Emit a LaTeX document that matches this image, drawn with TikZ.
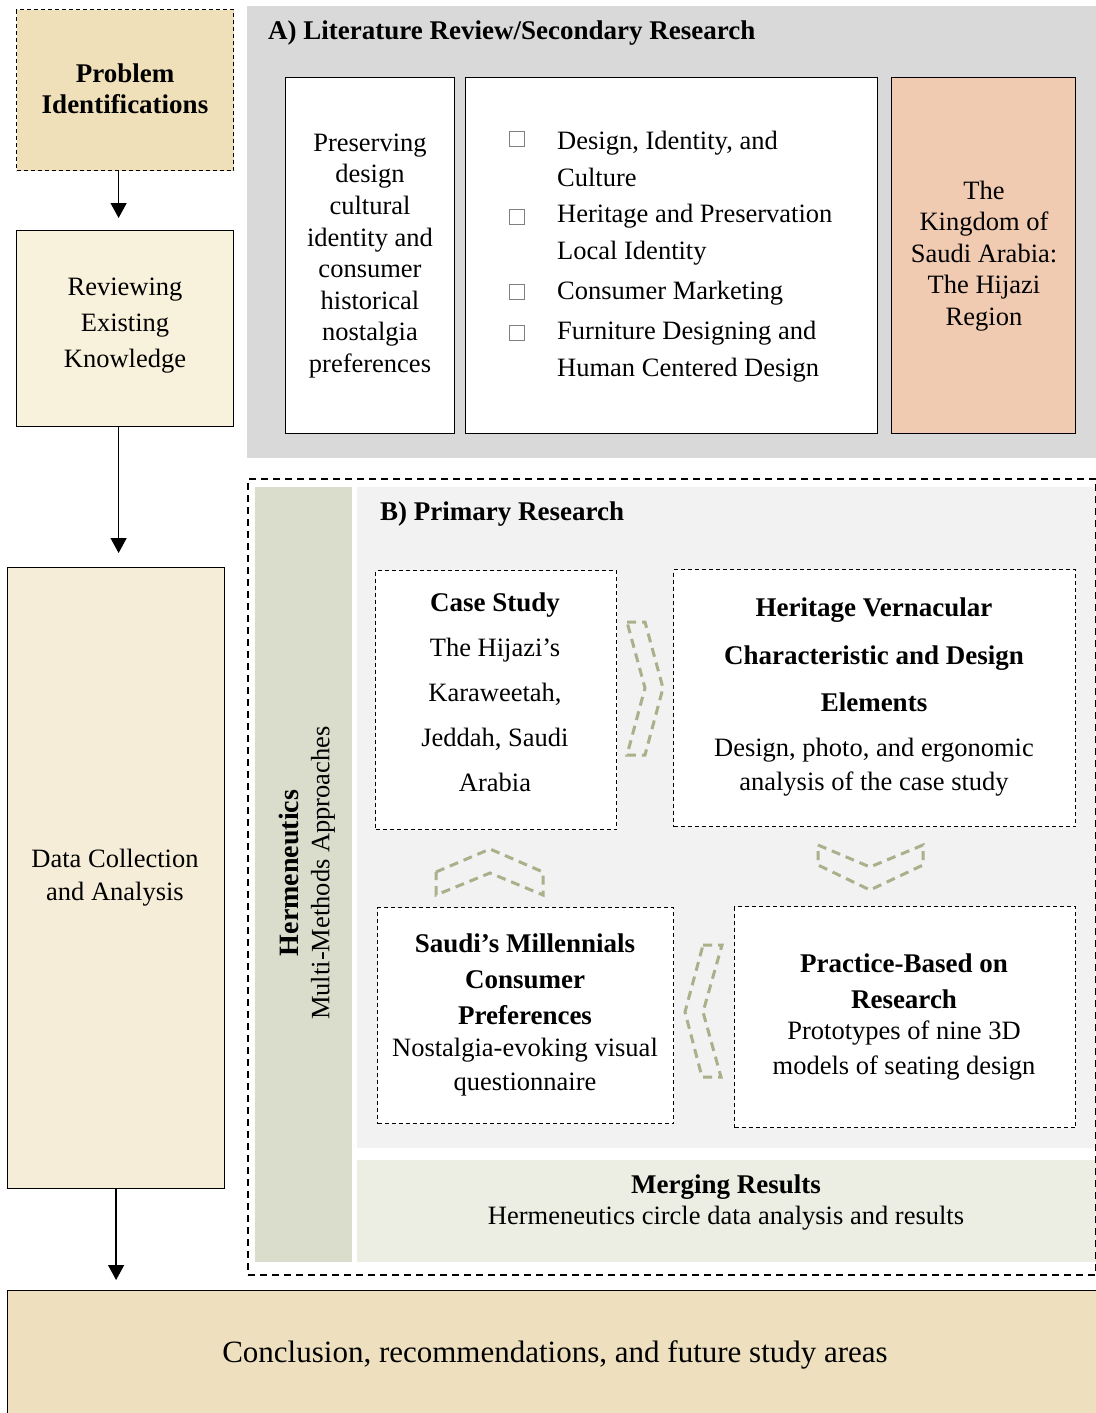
\documentclass[tikz,border=0pt]{standalone}
\usepackage{fontspec}
\setmainfont{Liberation Serif}
\usetikzlibrary{arrows.meta}
\definecolor{tanA}{RGB}{239,224,185}
\definecolor{creamA}{RGB}{248,241,219}
\definecolor{creamB}{RGB}{246,237,217}
\definecolor{conclC}{RGB}{238,224,190}
\definecolor{peachA}{RGB}{240,203,178}
\definecolor{greyA}{RGB}{217,217,217}
\definecolor{greyB}{RGB}{242,242,242}
\definecolor{hermC}{RGB}{218,220,204}
\definecolor{mergeC}{RGB}{236,237,227}
\definecolor{chevC}{RGB}{169,176,138}
\tikzset{
  fs/.style={font=\fontsize{26.5}{31.5}\selectfont},
  fb/.style={font=\fontsize{27}{31.5}\selectfont\bfseries},
  area/.style={anchor=north west, inner sep=0pt, draw=none},
  solidbox/.style={area, draw=black, line width=1.2pt},
  dashbox/.style={area, draw=black, line width=1.2pt, dash pattern=on 4pt off 3pt},
  arr/.style={-{Triangle[width=16pt,length=15pt]}, line width=1.3pt},
  chev/.style={draw=chevC, line width=3pt, dash pattern=on 9pt off 6pt},
  chk/.style={draw=gray, line width=1pt, minimum size=15pt, inner sep=0pt},
  txt/.style={fs, inner sep=0pt, align=center},
}
\begin{document}
\begin{tikzpicture}[x=1pt,y=-1pt]
\useasboundingbox (0,0) rectangle (1095,1413);
% left column
\node[dashbox, fill=tanA, minimum width=217pt, minimum height=161pt] (prob) at (16,9) {};
\node[txt, fb] (probt) at (125,89) {Problem\\Identifications};
\node[solidbox, fill=creamA, minimum width=217pt, minimum height=196pt] (rev) at (16,230) {};
\node[txt, font=\fontsize{26.5}{36}\selectfont] (revt) at (125,326) {Reviewing\\Existing\\Knowledge};
\node[solidbox, fill=creamB, minimum width=217pt, minimum height=621pt] (data) at (7,567) {};
\node[txt, font=\fontsize{26.5}{33}\selectfont] (datat) at (115,878) {Data Collection\\and Analysis};
\node[solidbox, fill=conclC, minimum width=1100pt, minimum height=140pt] (concl) at (7,1290) {};
\node[txt, font=\fontsize{31}{34}\selectfont] (conclt) at (555,1355) {Conclusion, recommendations, and future study areas};
\draw[arr, shorten >=12pt] ([xshift=-6.5pt]prob.south) -- ([xshift=-6.5pt]prob.south |- rev.north);
\draw[arr, shorten >=14pt] ([xshift=-6.5pt]rev.south) -- ([xshift=-6.5pt]rev.south |- data.north);
\draw[arr, shorten >=10pt] (data.south) -- (data.south |- concl.north);
% Section A
\node[area, fill=greyA, minimum width=850pt, minimum height=452pt] (secA) at (247,6) {};
\node[fb, anchor=west, inner sep=0pt] (secAt) at (268,33) {A) Literature Review/Secondary Research};
\node[solidbox, fill=white, minimum width=169pt, minimum height=356pt] (a1) at (285,77) {};
\node[txt, font=\fontsize{26.5}{31.6}\selectfont] (a1t) at (370,256) {Preserving\\design\\cultural\\identity and\\consumer\\historical\\nostalgia\\preferences};
\node[solidbox, fill=white, minimum width=412pt, minimum height=356pt] (a2) at (465,77) {};
\node[chk] (c1) at (517,139) {};
\node[chk] (c2) at (517,217) {};
\node[chk] (c3) at (517,292) {};
\node[chk] (c4) at (517,333) {};
\node[txt, font=\fontsize{26.5}{37}\selectfont, align=left, anchor=west] (l1) at (557,159) {Design, Identity, and\\Culture};
\node[txt, font=\fontsize{26.5}{37}\selectfont, align=left, anchor=west] (l2) at (557,235) {Heritage and Preservation\\Local Identity};
\node[txt, anchor=west] (l3) at (557,293) {Consumer Marketing};
\node[txt, font=\fontsize{26.5}{37}\selectfont, align=left, anchor=west] (l4) at (557,352) {Furniture Designing and\\Human Centered Design};
\node[solidbox, fill=peachA, minimum width=184pt, minimum height=356pt] (a3) at (891,77) {};
\node[txt] (a3t) at (984,256) {The\\Kingdom of\\Saudi Arabia:\\The Hijazi\\Region};
% Section B
\node[area, fill=hermC, minimum width=97pt, minimum height=775pt] (herm) at (255,487) {};
\node[area, fill=greyB, minimum width=740pt, minimum height=661pt] (secB) at (357,487) {};
\node[area, fill=mergeC, minimum width=740pt, minimum height=102pt] (merge) at (357,1160) {};
\node[dashbox, line width=2pt, dash pattern=on 7pt off 5pt, minimum width=848pt, minimum height=796pt] (secBbox) at (247,478) {};
\node[txt, rotate=90, font=\fontsize{26.5}{31}\selectfont, anchor=center] (hermt) at (307,873) {{\fontsize{28}{31}\selectfont\bfseries Hermeneutics}\\Multi-Methods Approaches};
\node[fb, anchor=west, inner sep=0pt] (secBt) at (380,514) {B) Primary Research};
\node[dashbox, fill=white, minimum width=241pt, minimum height=259pt] (cs) at (375,570) {};
\node[txt, font=\fontsize{26.5}{45}\selectfont] (cst) at (495,692) {{\fontsize{27}{45}\selectfont\bfseries Case Study}\\The Hijazi’s\\Karaweetah,\\Jeddah, Saudi\\Arabia};
\node[dashbox, fill=white, minimum width=402pt, minimum height=257pt] (hv) at (673,569) {};
\node[txt, font=\fontsize{27}{47.5}\selectfont\bfseries] (hvt) at (874,655) {Heritage Vernacular\\Characteristic and Design\\Elements};
\node[txt, font=\fontsize{26.5}{34}\selectfont] (hvs) at (874,767) {Design, photo, and ergonomic\\analysis of the case study};
\node[dashbox, fill=white, minimum width=296pt, minimum height=216pt] (sm) at (377,907) {};
\node[txt, font=\fontsize{27}{36}\selectfont\bfseries] (smt) at (525,979) {Saudi’s Millennials\\Consumer\\Preferences};
\node[txt, font=\fontsize{26.5}{34}\selectfont] (sms) at (525,1067) {Nostalgia-evoking visual\\questionnaire};
\node[dashbox, fill=white, minimum width=341pt, minimum height=221pt] (pb) at (734,906) {};
\node[txt, font=\fontsize{27}{36}\selectfont\bfseries] (pbt) at (904,981) {Practice-Based on\\Research};
\node[txt, font=\fontsize{26.5}{35}\selectfont] (pbs) at (904,1051) {Prototypes of nine 3D\\models of seating design};
\node[txt, font=\fontsize{26.5}{31}\selectfont] (mt) at (726,1202) {{\fontsize{27}{31}\selectfont\bfseries Merging Results}\\Hermeneutics circle data analysis and results};
% chevrons
\draw[chev] (627,622) -- (645,622) -- (663,688) -- (645,755) -- (627,755) -- (645,688) -- cycle;
\draw[chev] (436,872) -- (490,849) -- (543,872) -- (543,895) -- (490,873) -- (436,895) -- cycle;
\draw[chev] (818,845) -- (870,867) -- (923,845) -- (923,865) -- (870,890) -- (818,865) -- cycle;
\draw[chev] (703,945) -- (722,945) -- (703,1012) -- (721,1077) -- (702,1077) -- (685,1012) -- cycle;
\end{tikzpicture}
\end{document}
